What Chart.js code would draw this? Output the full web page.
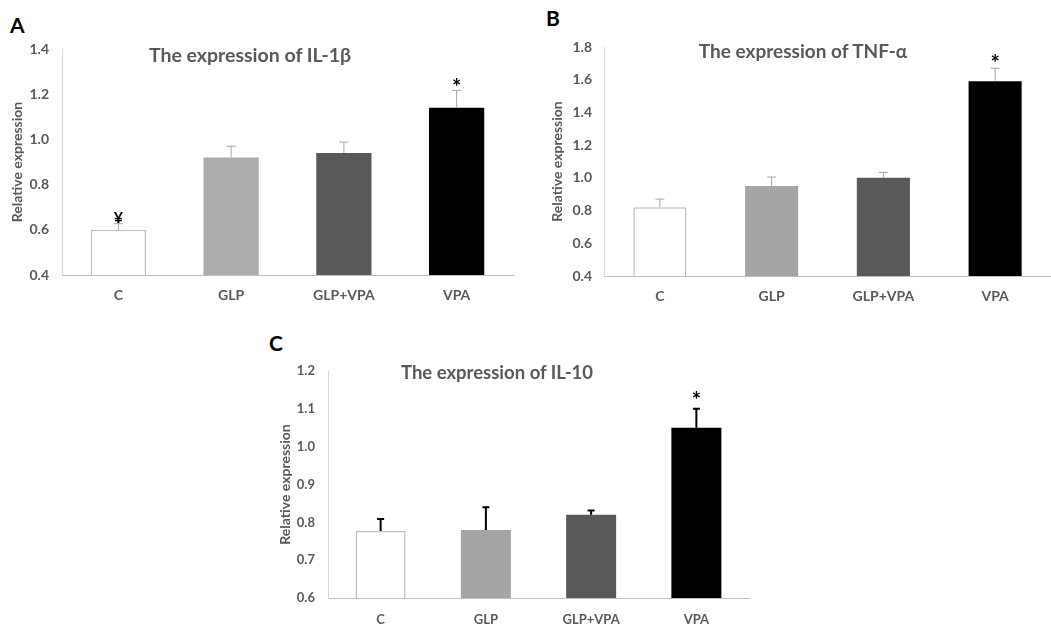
<!DOCTYPE html>
<html>
<head>
<meta charset="utf-8">
<style>
  body { margin: 0; background: #fff; width: 1051px; height: 628px; position: relative; overflow: hidden; font-family: Lato, "Open Sans", sans-serif; }
  .box { position: absolute; }
  .letter { position: absolute; font-weight: bold; font-size: 21px; color: #000; line-height: 1; }
  .title { position: absolute; font-weight: bold; color: #595959; white-space: nowrap; transform: translate(-50%, -50%); line-height: 1; }
</style>
</head>
<body>
<div class="letter" style="left:10px;top:14px">A</div>
<div class="letter" style="left:546px;top:7px">B</div>
<div class="letter" style="left:269px;top:332px">C</div>

<div class="box" style="left:0;top:0;width:520px;height:310px"><canvas id="chartA" width="520" height="310"></canvas></div>
<div class="box" style="left:530px;top:0;width:521px;height:310px"><canvas id="chartB" width="521" height="310"></canvas></div>
<div class="box" style="left:260px;top:300px;width:560px;height:328px"><canvas id="chartC" width="560" height="328"></canvas></div>

<div class="title" style="left:250px;top:55px;font-size:19.5px">The expression of IL-1β</div>
<div class="title" style="left:803px;top:50px;font-size:19px">The expression of TNF-α</div>
<div class="title" style="left:497px;top:372px;font-size:18.5px">The expression of IL-10</div>

<script src="https://cdn.jsdelivr.net/npm/chart.js"></script>
<script>
    // data
    const categories = ["C", "GLP", "GLP+VPA", "VPA"];

    const il1bValues = [0.60, 0.92, 0.94, 1.14];
    const il1bErrors = [0.027, 0.05, 0.048, 0.077];
    const il1bMarks = ["¥", "", "", "*"];
    const il1bTicks = [0.4, 0.6, 0.8, 1.0, 1.2, 1.4];

    const tnfValues = [0.82, 0.95, 1.00, 1.59];
    const tnfErrors = [0.05, 0.055, 0.033, 0.08];
    const tnfMarks = ["", "", "", "*"];
    const tnfTicks = [0.4, 0.6, 0.8, 1.0, 1.2, 1.4, 1.6, 1.8];

    const il10Values = [0.777, 0.78, 0.82, 1.05];
    const il10Errors = [0.032, 0.06, 0.011, 0.05];
    const il10Marks = ["", "", "", "*"];
    const il10Ticks = [0.6, 0.7, 0.8, 0.9, 1.0, 1.1, 1.2];

    const fontFamily = "Lato, 'Open Sans', sans-serif";

    // error bars (upper only) + significance marks
    const errorBarPlugin = {
        id: "errorBars",
        afterDatasetsDraw(chart, args, opts) {
            let ctx = chart.ctx;
            let meta = chart.getDatasetMeta(0);
            let yScale = chart.scales.y;
            let values = chart.data.datasets[0].data;
            ctx.save();
            ctx.strokeStyle = opts.color;
            ctx.lineWidth = opts.width;
            meta.data.forEach((bar, i) => {
                let yBar = yScale.getPixelForValue(values[i]);
                let yTop = yScale.getPixelForValue(values[i] + opts.errors[i]);
                ctx.beginPath();
                ctx.moveTo(bar.x, yBar);
                ctx.lineTo(bar.x, yTop);
                ctx.moveTo(bar.x - opts.cap, yTop);
                ctx.lineTo(bar.x + opts.cap, yTop);
                ctx.stroke();
                let mark = opts.marks[i];
                if (mark) {
                    let star = mark === "*";
                    ctx.fillStyle = "#000";
                    ctx.font = "bold " + (star ? 22 : 16) + "px " + fontFamily;
                    ctx.textAlign = "center";
                    ctx.textBaseline = "alphabetic";
                    let m = ctx.measureText(mark);
                    let center = yTop - (star ? opts.markGap : 6.5);
                    let base = center + (m.actualBoundingBoxAscent - m.actualBoundingBoxDescent) / 2;
                    ctx.fillText(mark, bar.x, base);
                }
            });
            ctx.restore();
        }
    };

    function makeChart(id, cfg) {
        let ctx = document.getElementById(id).getContext("2d");
        return new Chart(ctx, {
            type: "bar",
            data: {
                labels: categories,
                datasets: [{
                    data: cfg.values,
                    backgroundColor: cfg.colors,
                    borderColor: ["#bfbfbf", cfg.colors[1], cfg.colors[2], cfg.colors[3]],
                    borderWidth: [1.5, 0, 0, 0],
                    barPercentage: cfg.barPct,
                    categoryPercentage: 1
                }]
            },
            options: {
                responsive: false,
                animation: false,
                layout: { padding: { left: 0, top: cfg.top, right: cfg.right, bottom: 0 } },
                plugins: {
                    legend: { display: false },
                    tooltip: { enabled: false },
                    errorBars: { errors: cfg.errors, marks: cfg.marks, color: cfg.errColor, width: cfg.errWidth, cap: cfg.cap, markGap: cfg.markGap }
                },
                scales: {
                    x: {
                        grid: { display: false, drawTicks: false },
                        border: { color: "#bfbfbf", width: 1 },
                        ticks: { color: "#595959", font: { family: fontFamily, weight: "bold", size: cfg.fontSize }, padding: cfg.xPad },
                        afterFit(scale) { scale.height = cfg.h - cfg.bottom; }
                    },
                    y: {
                        min: cfg.ticks[0],
                        max: cfg.ticks[cfg.ticks.length - 1],
                        grid: { display: false, drawTicks: false },
                        border: { color: "#d9d9d9", width: 1 },
                        afterBuildTicks(scale) { scale.ticks = cfg.ticks.map(v => ({ value: v })); },
                        ticks: {
                            color: "#595959",
                            font: { family: fontFamily, weight: "bold", size: cfg.fontSize },
                            padding: cfg.yPad,
                            callback: v => v.toFixed(1)
                        },
                        title: {
                            display: true,
                            text: "Relative expression",
                            color: "#595959",
                            font: { family: fontFamily, weight: "bold", size: 14 },
                            padding: { top: cfg.titlePad, bottom: 0 }
                        },
                        afterFit(scale) { scale.width = cfg.left; }
                    }
                }
            },
            plugins: [errorBarPlugin]
        });
    }

    makeChart("chartA", {
        values: il1bValues, errors: il1bErrors, marks: il1bMarks, ticks: il1bTicks,
        colors: ["#ffffff", "#aeabab", "#595959", "#000000"],
        errColor: "#a6a6a6", errWidth: 1, cap: 4.5, markGap: 8,
        h: 310, left: 62, top: 49, right: 7, bottom: 275,
        barPct: 0.49, fontSize: 14, xPad: 12, yPad: 13, titlePad: 9
    });

    makeChart("chartB", {
        values: tnfValues, errors: tnfErrors, marks: tnfMarks, ticks: tnfTicks,
        colors: ["#ffffff", "#a5a5a5", "#595959", "#000000"],
        errColor: "#a6a6a6", errWidth: 1, cap: 4.5, markGap: 10.5,
        h: 310, left: 74, top: 47, right: 0, bottom: 276,
        barPct: 0.475, fontSize: 14, xPad: 12, yPad: 12, titlePad: 19
    });

    makeChart("chartC", {
        values: il10Values, errors: il10Errors, marks: il10Marks, ticks: il10Ticks,
        colors: ["#ffffff", "#a5a5a5", "#595959", "#000000"],
        errColor: "#000000", errWidth: 2, cap: 3.5, markGap: 13.5,
        h: 328, left: 68, top: 71, right: 71, bottom: 298,
        barPct: 0.475, fontSize: 13, xPad: 14, yPad: 13, titlePad: 17.5
    });
</script>
</body>
</html>
